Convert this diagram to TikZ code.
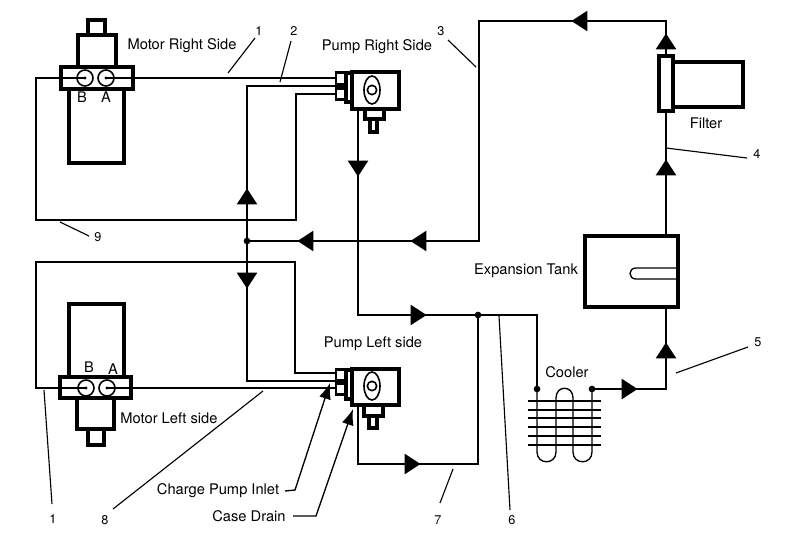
\documentclass[tikz,border=0pt]{standalone}
\usepackage{fontspec}
\setmainfont{TeX Gyre Heros}
\usetikzlibrary{shapes.geometric,arrows.meta}
\tikzset{
  every node/.style={font=\fontsize{11}{13}\selectfont},
  pipe/.style={line width=1pt,line join=miter},
  thinl/.style={line width=0.85pt},
  callout/.style={line width=1pt,-{Latex[length=12pt,width=9pt]}},
  hbox/.style 2 args={draw,line width=2.4pt,fill=white,inner sep=0,minimum width=#1*0.75pt,minimum height=#2*0.75pt},
  blk/.style 2 args={fill=black,inner sep=0,minimum width=#1*0.75pt,minimum height=#2*0.75pt},
  wht/.style 2 args={fill=white,inner sep=0,minimum width=#1*0.75pt,minimum height=#2*0.75pt},
  portc/.style={draw,circle,line width=1.2pt,fill=white,inner sep=0,minimum size=12pt},
  cdot/.style={circle,fill=black,inner sep=0,minimum size=2.6pt},
  jdot/.style={circle,fill=black,inner sep=0,minimum size=5pt},
  cam/.style={draw,ellipse,line width=1.2pt,inner sep=0,minimum width=12pt,minimum height=21pt},
  cam2/.style={draw,circle,line width=1.2pt,inner sep=0,minimum size=7pt},
  tri/.style={isosceles triangle,isosceles triangle apex angle=66,fill=black,inner sep=0,minimum height=12pt,anchor=apex},
  num/.style={font=\fontsize{9.5}{11}\selectfont},
}
\begin{document}
\begin{tikzpicture}[x=0.75pt,y=-0.75pt]
\useasboundingbox (0,0) rectangle (800,543);

% motor right
\node[hbox={17}{15}] (mrtop) at (96.5,27.5) {};
\node[hbox={38}{32}] (mrneck) at (97,51) {};
\node[hbox={55}{74}] (mrbody) at (96.5,126) {};
\node[hbox={72}{22}] (mrband) at (97,78) {};
\node[portc] (mrB) at (85,78) {};
\node[portc] (mrA) at (106,78) {};
\node[cdot] (mrBd) at (85,78) {};
\node[cdot] (mrAd) at (106,78) {};
\node (mrBl) at (82,97) {B};
\node (mrAl) at (106,97) {A};

% motor left
\node[hbox={55}{73}] (mlbody) at (96.5,340.5) {};
\node[hbox={37}{31}] (mlneck) at (95.5,413.5) {};
\node[hbox={16}{16}] (mltop) at (96,437) {};
\node[hbox={71}{21}] (mlband) at (95.5,387.5) {};
\node[portc] (mlB) at (86,388) {};
\node[portc] (mlA) at (107,388) {};
\node[cdot] (mlBd) at (86,388) {};
\node[cdot] (mlAd) at (107,388) {};
\node (mlBl) at (89,367) {B};
\node (mlAl) at (113,369) {A};

% pump right
\node[blk={13}{30}] (prport) at (341,86) {};
\node[wht={8}{9}] (prp1) at (341,78.5) {};
\node[wht={8}{8}] (prp2) at (341,94) {};
\node[hbox={6}{29}] (prstrip) at (349,87.5) {};
\node[hbox={47}{37}] (prbox) at (375.5,90.5) {};
\node[cam] (prcam) at (372,90) {};
\node[cam2] (prcam2) at (372,90) {};
\node[hbox={19}{10}] (prsh) at (374.5,114) {};
\node[hbox={7}{13}] (prsh2) at (373.5,125.5) {};

% pump left
\node[blk={13}{28}] (plport) at (341,382) {};
\node[wht={8}{8}] (plp1) at (341,375) {};
\node[wht={8}{8}] (plp2) at (341,389) {};
\node[hbox={6}{29}] (plstrip) at (349,384.5) {};
\node[hbox={47}{36}] (plbox) at (375.5,387) {};
\node[cam] (plcam) at (372,386) {};
\node[cam2] (plcam2) at (372,386) {};
\node[hbox={19}{11}] (plsh) at (373.5,410.5) {};
\node[hbox={8}{12}] (plsh2) at (373,422) {};

% filter and tank
\node[hbox={70}{45}] (filtb) at (708,84.5) {};
\node[hbox={14}{55}] (filt) at (666,83.5) {};
\node[hbox={93}{71}] (tank) at (631.5,271.5) {};

% corners and ends of the pipes
\coordinate (prB) at (335,94);
\coordinate (prA) at (335,78);
\coordinate (prC) at (335,86);
\coordinate (plB) at (335,373);
\coordinate (plC) at (335,381);
\coordinate (plA) at (335,388);
\coordinate (prout) at (358,109);
\coordinate (plout) at (358,405);
\coordinate (tanktop) at (666,236);
\coordinate (tankbot) at (666,307);
\coordinate (ucr) at (677,268);
\coordinate (ucl) at (636,268);
\coordinate (ucl2) at (636,279);
\coordinate (ucr2) at (677,279);

% junctions
\node[jdot] (jleft) at (247,241) {};
\node[jdot] (jmid) at (478,315) {};
\node[jdot] (cin) at (537,389) {};
\node[jdot] (cout) at (592,389) {};

% flow heads
\node[tri,rotate=90] (hup1) at (247,188) {};
\node[tri,rotate=-90] (hdn1) at (247,289) {};
\node[tri,rotate=-90] (hdn2) at (358,177) {};
\node[tri,rotate=180] (hl1) at (297,241) {};
\node[tri,rotate=180] (hl2) at (410,241) {};
\node[tri] (hr1) at (427,315) {};
\node[tri] (hr2) at (421,464) {};
\node[tri] (hr3) at (638,389) {};
\node[tri,rotate=90] (hup2) at (666,342) {};
\node[tri,rotate=90] (hup3) at (666,159) {};
\node[tri,rotate=90] (hup4) at (666,33) {};
\node[tri,rotate=180] (hl3) at (571,21) {};

% pipes
\draw[pipe] (mrA.center) -- (prA);
\draw[pipe] (mrB.center) -- (36,78) -- (36,220) -- (296,220) -- (296,94) -- (prB);
\draw[pipe] (jleft.center) -- (hup1.apex) -- (247,86) -- (prC);
\draw[pipe] (jleft.center) -- (hdn1.apex) -- (247,381) -- (plC);
\draw[pipe] (mlB.center) -- (36,388) -- (36,262) -- (295,262) -- (295,373) -- (plB);
\draw[pipe] (mlA.center) -- (plA);
\draw[pipe] (prout) -- (hdn2.apex) -- (358,315) -- (hr1.apex) -- (jmid.center);
\draw[pipe] (plout) -- (358,464) -- (hr2.apex) -- (478,464) -- (jmid.center);
\draw[pipe] (jmid.center) -- (537,315) -- (cin.center);
\draw[pipe] (cout.center) -- (hr3.apex) -- (666,389) -- (hup2.apex) -- (tankbot);
\draw[pipe] (tanktop) -- (hup3.apex) -- (filt.south);
\draw[pipe] (filt.north) -- (hup4.apex) -- (666,21) -- (hl3.apex) -- (479,21) -- (479,241) -- (hl2.apex) -- (hl1.apex) -- (jleft.center);
\draw[pipe] (ucr) -- (ucl) .. controls (628,268) and (628,279) .. (ucl2) -- (ucr2);

% cooler
\draw[pipe] (cin.center) -- (537,452) .. controls (537,465) and (556,465) .. (556,452) -- (556,398) .. controls (556,385) and (573,385) .. (573,398) -- (573,452) .. controls (573,465) and (592,465) .. (592,452) -- (cout.center);
\foreach \fy in {401,410,418,427,436,445} {
  \coordinate (finl) at (528,\fy);
  \coordinate (finr) at (601,\fy);
  \draw[pipe] (finl) -- (finr);
}

% leaders
\node[num] (n1a) at (259,31) {1};
\node[num] (n2) at (294,31) {2};
\node[num] (n3) at (441,31) {3};
\node[num] (n4) at (757,154) {4};
\node[num] (n5) at (758,342) {5};
\node[num] (n6) at (512,520) {6};
\node[num] (n7) at (438,520) {7};
\node[num] (n8) at (105,520) {8};
\node[num] (n9) at (98,237) {9};
\node[num] (n1b) at (53,519) {1};
\coordinate (l1a) at (228,73);
\coordinate (l1b) at (255,38);
\coordinate (l2a) at (280,82);
\coordinate (l2b) at (291,41);
\coordinate (l3a) at (476,67);
\coordinate (l3b) at (448,40);
\coordinate (l4a) at (666,148);
\coordinate (l4b) at (747,158);
\coordinate (l5a) at (676,373);
\coordinate (l5b) at (748,347);
\coordinate (l6a) at (499,316);
\coordinate (l6b) at (510,510);
\coordinate (l7a) at (453,469);
\coordinate (l7b) at (440,503);
\coordinate (l8a) at (263,391);
\coordinate (l8b) at (113,509);
\coordinate (l9a) at (60,222);
\coordinate (l9b) at (89,236);
\coordinate (l1c) at (44,390);
\coordinate (l1d) at (52,504);
\foreach \la/\lb in {l1a/l1b,l2a/l2b,l3a/l3b,l4a/l4b,l5a/l5b,l6a/l6b,l7a/l7b,l8a/l8b,l9a/l9b,l1c/l1d}
  \draw[thinl] (\la) -- (\lb);

% labels
\node (tmr) at (182,46) {Motor Right Side};
\node (tpr) at (377,47) {Pump Right Side};
\node (tml) at (169,418) {Motor Left side};
\node (tpl) at (373,344) {Pump Left side};
\node (tfilt) at (706,123) {Filter};
\node (ttank) at (526,271) {Expansion Tank};
\node (tcool) at (567,372) {Cooler};
\node (tchg) at (218,491) {Charge Pump Inlet};
\node (tcase) at (249,516) {Case Drain};

% callouts
\coordinate (chgs) at (285,491);
\coordinate (chge) at (295,490);
\coordinate (chgt) at (330,383);
\coordinate (cass) at (293,516);
\coordinate (case) at (316,516);
\coordinate (cast) at (353,409);
\draw[callout] (chgs) -- (chge) -- (chgt);
\draw[callout] (cass) -- (case) -- (cast);
\end{tikzpicture}
\end{document}
